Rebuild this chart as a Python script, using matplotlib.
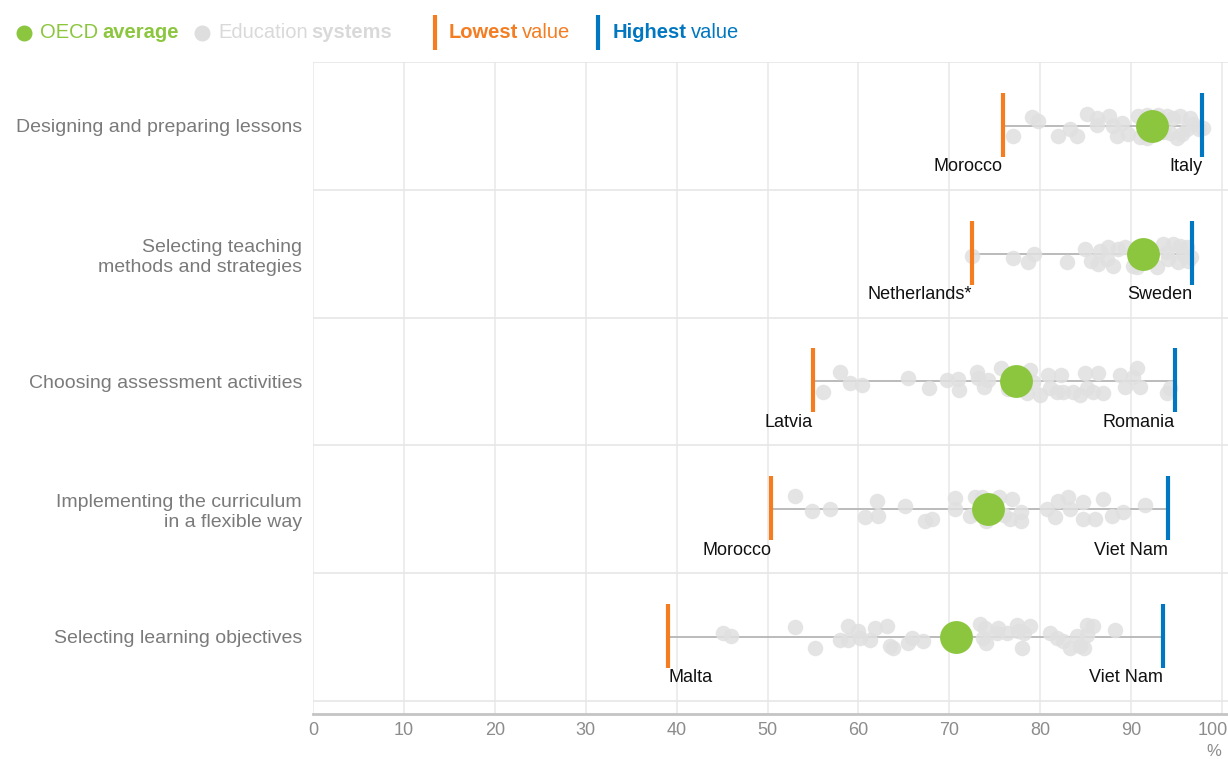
import matplotlib
matplotlib.use("Agg")
import matplotlib.pyplot as plt
from matplotlib.transforms import ScaledTranslation
import numpy as np

# --- datos ---
categories = [
    "Designing and preparing lessons",
    "Selecting teaching\nmethods and strategies",
    "Choosing assessment activities",
    "Implementing the curriculum\nin a flexible way",
    "Selecting learning objectives",
]
oecd_avg = [92.3, 91.3, 77.3, 74.3, 70.7]
lowest = [75.9, 72.5, 55.0, 50.4, 39.1]
lowest_country = ["Morocco", "Netherlands*", "Latvia", "Morocco", "Malta"]
highest = [97.8, 96.7, 94.8, 94.1, 93.5]
highest_country = ["Italy", "Sweden", "Romania", "Viet Nam", "Viet Nam"]

systems_1 = [77.0, 79.1, 79.8, 82.0, 83.3, 84.0, 85.2, 86.2, 86.2, 87.6, 88.4, 89.0, 89.7,
             90.8, 91.7, 93.0, 93.9, 94.6, 95.4, 96.5, 91.0, 91.7, 94.3, 95.0, 95.6, 96.1,
             96.8, 97.5, 88.0, 97.9, 92.0, 93.5, 92.6]
systems_2 = [72.5, 77.0, 78.7, 79.3, 82.9, 84.9, 85.6, 86.4, 86.6, 87.5, 87.3, 88.0, 88.6,
             89.3, 90.2, 90.6, 92.8, 93.5, 94.1, 94.6, 95.4, 95.2, 93.9, 95.7, 96.1, 96.3,
             91.0, 92.0, 96.6]
systems_3 = [56.1, 58.0, 59.1, 60.4, 65.5, 67.8, 69.7, 71.0, 71.1, 73.0, 73.2, 73.8, 74.3,
             75.7, 78.9, 78.5, 79.2, 80.0, 80.9, 81.1, 81.8, 82.3, 82.5, 83.6, 84.4, 84.9,
             85.1, 85.8, 86.4, 86.9, 88.8, 89.3, 90.2, 90.6, 91.0, 93.9, 94.3, 76.5, 77.5]
systems_4 = [53.0, 54.9, 56.9, 60.7, 62.0, 62.2, 65.1, 67.3, 68.1, 70.6, 70.6, 72.3, 72.8,
             73.6, 76.9, 76.7, 77.9, 77.9, 80.7, 81.6, 82.0, 83.1, 83.3, 84.7, 84.7, 86.0,
             86.9, 87.9, 89.1, 91.5, 74.0, 75.5, 73.0, 76.0]
systems_5 = [45.1, 46.0, 53.0, 55.2, 58.0, 58.9, 58.9, 60.0, 60.2, 61.3, 61.8, 63.1, 63.5,
             63.8, 65.5, 65.9, 67.1, 73.4, 73.9, 73.7, 75.2, 75.4, 76.3, 77.4, 77.6, 78.2,
             78.9, 78.0, 81.1, 81.8, 82.5, 83.3, 84.4, 84.0, 85.1, 85.8, 85.1, 88.2, 74.0, 84.8]
systems = [systems_1, systems_2, systems_3, systems_4, systems_5]

# desplazamiento vertical de cada punto (pixeles)
jitter_1 = [10, -9, -5, 10, 3, 10, -12, -8, -1, -10, 10, -3, 8, -10, -11, -11, -10, -8, -10, -8,
            11, 12, 7, 12, 8, 3, -2, 3, 0, 2, 5, 6, -4]
jitter_2 = [2, 4, 8, 0, 8, -5, 7, 10, -3, -7, 5, 12, -5, -7, 12, 13, 13, -10, 5, -10, -8, 8, -2,
            0, -7, 7, -4, 6, 3]
jitter_3 = [11, -9, 2, 4, -3, 7, -1, -2, 9, -9, -3, 6, -1, -13, -11, 12, 1, 14, -6, 7, 11, -6,
            11, 11, 14, -8, 7, 11, -8, 12, -6, 6, -4, -13, 6, 12, 7, 8, -5]
jitter_4 = [-13, 2, 0, 8, -8, 7, -3, 12, 10, -11, 0, 7, -12, -12, -10, 10, 3, 12, 0, 8, -8, -12,
            0, -7, 10, 10, -10, 7, 3, -4, 12, -12, 4, 6]
jitter_5 = [-4, -1, -10, 11, 3, -11, 3, -6, 1, 3, -9, -11, 9, 11, 6, 1, 4, -13, -9, 1, -4, -9,
            -4, -12, -6, -4, -11, 11, -4, 1, 4, 11, 9, -1, -12, -11, -2, -7, 6, 11]
jitters = [jitter_1, jitter_2, jitter_3, jitter_4, jitter_5]

ticks = list(range(0, 101, 10))

GREEN = "#8cc63f"
GRAY_DOT = "#e0e0e0"
ORANGE = "#f47d22"
BLUE = "#0077c0"
FONT = ["Liberation Sans", "DejaVu Sans"]

W, H = 1228, 759
fig = plt.figure(figsize=(W / 100, H / 100), dpi=100)
ax = fig.add_axes([313 / W, 1 - 714 / H, 915 / W, (714 - 62) / H])

ROW_PX = 127.75
n = len(categories)
ax.set_xlim(0, 915 / 9.09)
ax.set_ylim(n - 1 + (714 - 637) / ROW_PX, -0.5)

# rejilla
for t in ticks:
    ax.axvline(t, color="#ececec", lw=1.3, zorder=0)
for k in range(n + 1):
    ax.axhline(k - 0.5, color="#e6e6e6", lw=1.2, zorder=0)

for i in range(n):
    ax.plot([lowest[i], highest[i]], [i, i], color="#b5b5b5", lw=1.3, zorder=1)
    ys = [i + d / ROW_PX for d in jitters[i]]
    ax.scatter(systems[i], ys, s=125, color=GRAY_DOT, alpha=0.85, lw=0, zorder=2)
    ax.scatter([oecd_avg[i]], [i], s=560, color=GREEN, lw=0, zorder=3)
    ax.plot([lowest[i], lowest[i]], [i - 33 / ROW_PX, i + 31 / ROW_PX], color=ORANGE,
            lw=3, solid_capstyle="butt", zorder=4)
    ax.plot([highest[i], highest[i]], [i - 33 / ROW_PX, i + 31 / ROW_PX], color=BLUE,
            lw=3, solid_capstyle="butt", zorder=4)
    ha_low = "left" if lowest_country[i] == "Malta" else "right"
    ax.text(lowest[i], i + 41 / ROW_PX, lowest_country[i], ha=ha_low, va="center",
            fontsize=13, family=FONT, color="#111111")
    ax.text(highest[i], i + 41 / ROW_PX, highest_country[i], ha="right", va="center",
            fontsize=13, family=FONT, color="#111111")

ax.set_yticks(range(n))
ax.set_yticklabels(categories, family=FONT, fontsize=14, color="#7a7a7a",
                   linespacing=1.25)
ax.set_xticks(ticks)
ax.set_xticklabels([str(t) for t in ticks], family=FONT, fontsize=13, color="#8c8c8c")
ax.tick_params(axis="y", length=0, pad=8)
ax.tick_params(axis="x", length=0, pad=6)
# el "100" queda pegado al borde: se corre un poco a la izquierda
last = ax.get_xticklabels()[-1]
last.set_transform(last.get_transform() + ScaledTranslation(-0.09, 0, fig.dpi_scale_trans))

for side in ["top", "right", "left"]:
    ax.spines[side].set_visible(False)
ax.spines["bottom"].set_color("#c4c4c4")
ax.spines["bottom"].set_linewidth(2)

fig.text(1214 / W, 1 - 752 / H, "%", ha="center", va="center", family=FONT,
         fontsize=12, color="#8c8c8c")

# --- leyenda ---
renderer = fig.canvas.get_renderer()
LEG_Y = 1 - 33 / H


def legend_text(x_px, parts, color):
    x = x_px
    for s, weight in parts:
        t = fig.text(x / W, LEG_Y, s, ha="left", va="center", family=FONT,
                     fontsize=14.5, color=color, weight=weight)
        x += t.get_window_extent(renderer).width + 4


def legend_dot(x_px, color):
    fig.add_artist(plt.Line2D([x_px / W], [LEG_Y], marker="o", markersize=10.5, lw=0,
                              color=color, transform=fig.transFigure))


def legend_bar(x_px, color):
    fig.add_artist(plt.Line2D([x_px / W, x_px / W], [1 - 15 / H, 1 - 50 / H], color=color,
                              lw=3, solid_capstyle="butt", transform=fig.transFigure))


legend_dot(24, GREEN)
legend_text(40, [("OECD", "normal"), ("average", "bold")], GREEN)
legend_dot(202, "#dedede")
legend_text(218, [("Education", "normal"), ("systems", "bold")], "#d9d9d9")
legend_bar(435, ORANGE)
legend_text(449, [("Lowest", "bold"), ("value", "normal")], ORANGE)
legend_bar(598, BLUE)
legend_text(613, [("Highest", "bold"), ("value", "normal")], BLUE)

fig.savefig("out.png", dpi=100)
